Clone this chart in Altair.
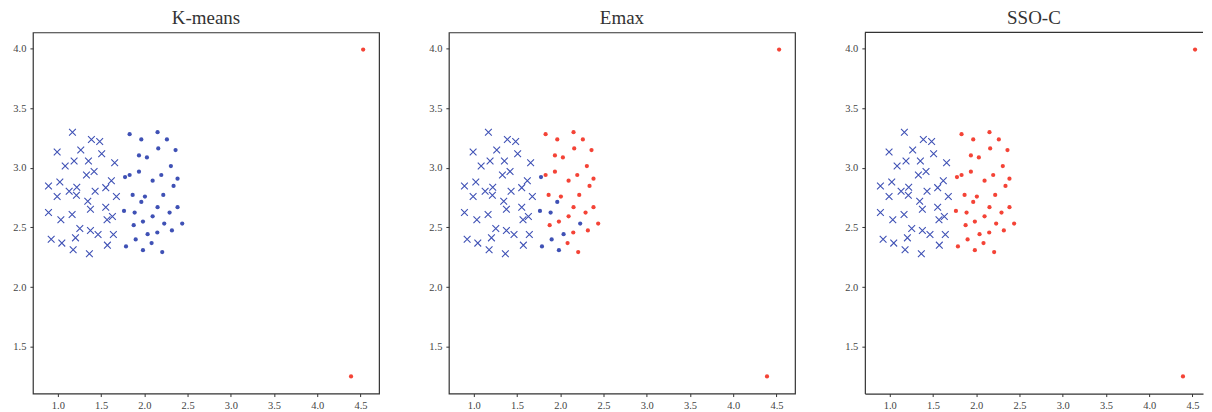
import altair as alt
import pandas as pd

# Cross-marked points (first group)
cross_x = [1.169, 1.388, 1.484, 0.992, 1.265, 1.507, 1.085, 1.188, 1.354, 1.657,
           1.331, 1.419, 0.892, 1.023, 1.619, 1.131, 1.219, 1.215, 1.431, 1.554,
           0.992, 1.677, 1.346, 1.377, 1.554, 0.892, 1.165, 1.035, 1.631, 1.569,
           1.254, 1.377, 1.465, 1.642, 0.923, 1.046, 1.204, 1.573, 1.177, 1.365]
cross_y = [3.298, 3.237, 3.220, 3.131, 3.148, 3.117, 3.014, 3.056, 3.056, 3.042,
           2.939, 2.969, 2.847, 2.880, 2.891, 2.802, 2.836, 2.769, 2.802, 2.833,
           2.758, 2.758, 2.719, 2.652, 2.669, 2.624, 2.607, 2.563, 2.591, 2.563,
           2.490, 2.474, 2.440, 2.440, 2.401, 2.368, 2.412, 2.351, 2.312, 2.279]

# Dot-marked points (second group)
dot_x = [1.830, 1.965, 2.153, 2.261, 2.161, 2.361, 1.938, 2.030, 2.307, 1.777,
         1.830, 1.938, 2.196, 2.096, 2.384, 2.338, 1.865, 2.007, 2.219, 1.965,
         1.765, 1.888, 2.153, 2.384, 2.292, 2.096, 1.984, 1.877, 2.230, 2.438,
         2.038, 2.150, 2.319, 1.900, 2.084, 1.788, 1.984, 2.207]
dot_y = [3.281, 3.237, 3.298, 3.237, 3.162, 3.148, 3.103, 3.086, 3.014, 2.922,
         2.939, 2.967, 2.939, 2.891, 2.908, 2.847, 2.772, 2.758, 2.772, 2.713,
         2.638, 2.624, 2.669, 2.669, 2.624, 2.593, 2.549, 2.518, 2.532, 2.532,
         2.443, 2.457, 2.474, 2.399, 2.368, 2.340, 2.309, 2.293]

# Outliers
out_x = [4.53, 4.39]
out_y = [3.99, 1.25]

# Dots assigned to the blue cluster by Emax (indices into dot lists)
emax_blue = [9, 19, 20, 21, 28, 30, 33, 35, 36]

titles = ["K-means", "Emax", "SSO-C"]
x_ticks = [1.0, 1.5, 2.0, 2.5, 3.0, 3.5, 4.0, 4.5]
y_ticks = [1.5, 2.0, 2.5, 3.0, 3.5, 4.0]

BLUE = "#3F51B5"
RED = "#F44336"
FRAME = "#333333"
FONT = "Liberation Serif"

X_MIN, X_MAX = 0.712, 4.714
Y_MIN, Y_MAX = 1.107, 4.134
W, H = 347, 362
W_LAST = 339  # the last panel runs off the right edge in the reference

cross_df = pd.DataFrame({"x": cross_x, "y": cross_y})


def dot_labels(method):
    labels = []
    for i in range(len(dot_x)):
        if method == "K-means":
            labels.append("a")
        elif method == "Emax":
            labels.append("a" if i in emax_blue else "b")
        else:
            labels.append("b")
    return labels + ["b", "b"]


X_PATH = "M-1,-1L1,1M-1,1L1,-1"

panels = []
for k, t in enumerate(titles):
    last = k == len(titles) - 1
    w = W_LAST if last else W
    x_hi = X_MIN + (X_MAX - X_MIN) * w / W
    xs = alt.Scale(domain=[X_MIN, x_hi], nice=False, zero=False)
    ys = alt.Scale(domain=[Y_MIN, Y_MAX], nice=False, zero=False)
    xax = alt.Axis(values=x_ticks, format=".1f", title=None, grid=False,
                   domain=last, domainColor=FRAME, domainWidth=1.2)
    yax = alt.Axis(values=y_ticks, format=".1f", title=None, grid=False,
                   domain=last, domainColor=FRAME, domainWidth=1.2)

    ddf = pd.DataFrame({"x": dot_x + out_x, "y": dot_y + out_y, "c": dot_labels(t)})
    crosses = alt.Chart(cross_df).mark_point(
        shape=X_PATH, filled=False, size=46, strokeWidth=1.1, color=BLUE, opacity=1
    ).encode(x=alt.X("x:Q", scale=xs, axis=xax), y=alt.Y("y:Q", scale=ys, axis=yax))
    dots = alt.Chart(ddf).mark_circle(size=18, opacity=1).encode(
        x=alt.X("x:Q", scale=xs, axis=xax),
        y=alt.Y("y:Q", scale=ys, axis=yax),
        color=alt.Color("c:N", scale=alt.Scale(domain=["a", "b"], range=[BLUE, RED]), legend=None),
    )
    layers = [crosses, dots]
    if last:
        top = alt.Chart(pd.DataFrame({"a": [0]})).mark_rule(
            color=FRAME, strokeWidth=1.2
        ).encode(x=alt.value(0), x2=alt.value(w), y=alt.value(0))
        layers.append(top)
    layer = alt.layer(*layers).properties(
        width=w, height=H,
        title=alt.TitleParams(t, font=FONT, fontSize=19, fontWeight="normal", color="#333", offset=4),
    )
    if last:
        layer = layer.properties(view=alt.ViewBackground(strokeOpacity=0))
    panels.append(layer)

chart = alt.hconcat(*panels, spacing=48).properties(
    padding={"left": 4, "top": 0, "right": 0, "bottom": 0}
).configure_view(
    stroke=FRAME, strokeWidth=1.2
).configure_axis(
    labelFont=FONT, labelFontSize=10.5, labelColor="#444", tickColor=FRAME,
    tickSize=3, labelPadding=4
)

chart.save("out.html", embed_options={"renderer": "svg", "actions": False})
